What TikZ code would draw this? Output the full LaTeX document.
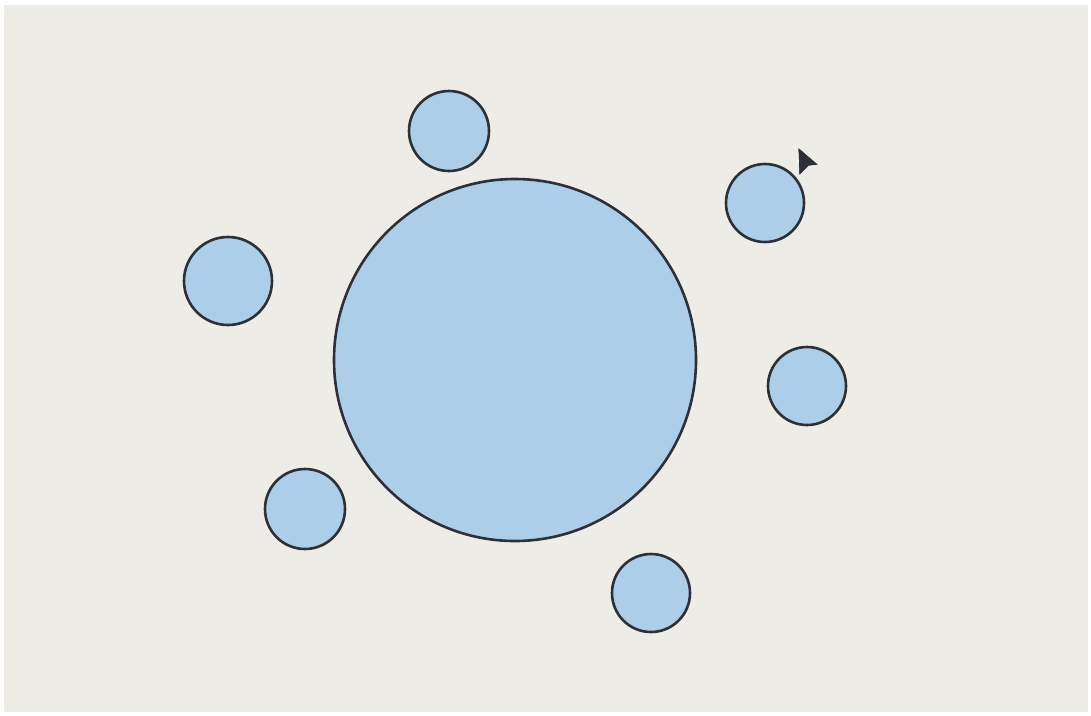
\documentclass[tikz,border=0pt]{standalone}
\definecolor{bgc}{RGB}{238,236,230}
\definecolor{fillc}{RGB}{172,206,232}
\definecolor{linec}{RGB}{45,48,55}
\tikzset{
  bub/.style={circle, draw=linec, fill=fillc, line width=2.6pt, inner sep=0pt},
}
\begin{document}
\begin{tikzpicture}[x=1pt,y=-1pt]
\useasboundingbox (0,0) rectangle (1091,715);
\fill[white] (0,0) rectangle (1091,715);
\fill[bgc] (4,5) rectangle (1088,712);
\node[bub, minimum size=362pt] (big) at (515,360) {};
\node[bub, minimum size=80pt] (top) at (449,131) {};
\node[bub, minimum size=78pt] (ur) at (765,203) {};
\node[bub, minimum size=88pt] (left) at (228,281) {};
\node[bub, minimum size=78pt] (right) at (807,386) {};
\node[bub, minimum size=80pt] (ll) at (305,509) {};
\node[bub, minimum size=78pt] (bot) at (651,593) {};
\fill[linec, draw=white, line width=0.6pt] (798,147) -- (819,165) -- (809,166) -- (799,176) -- cycle;
\end{tikzpicture}
\end{document}
